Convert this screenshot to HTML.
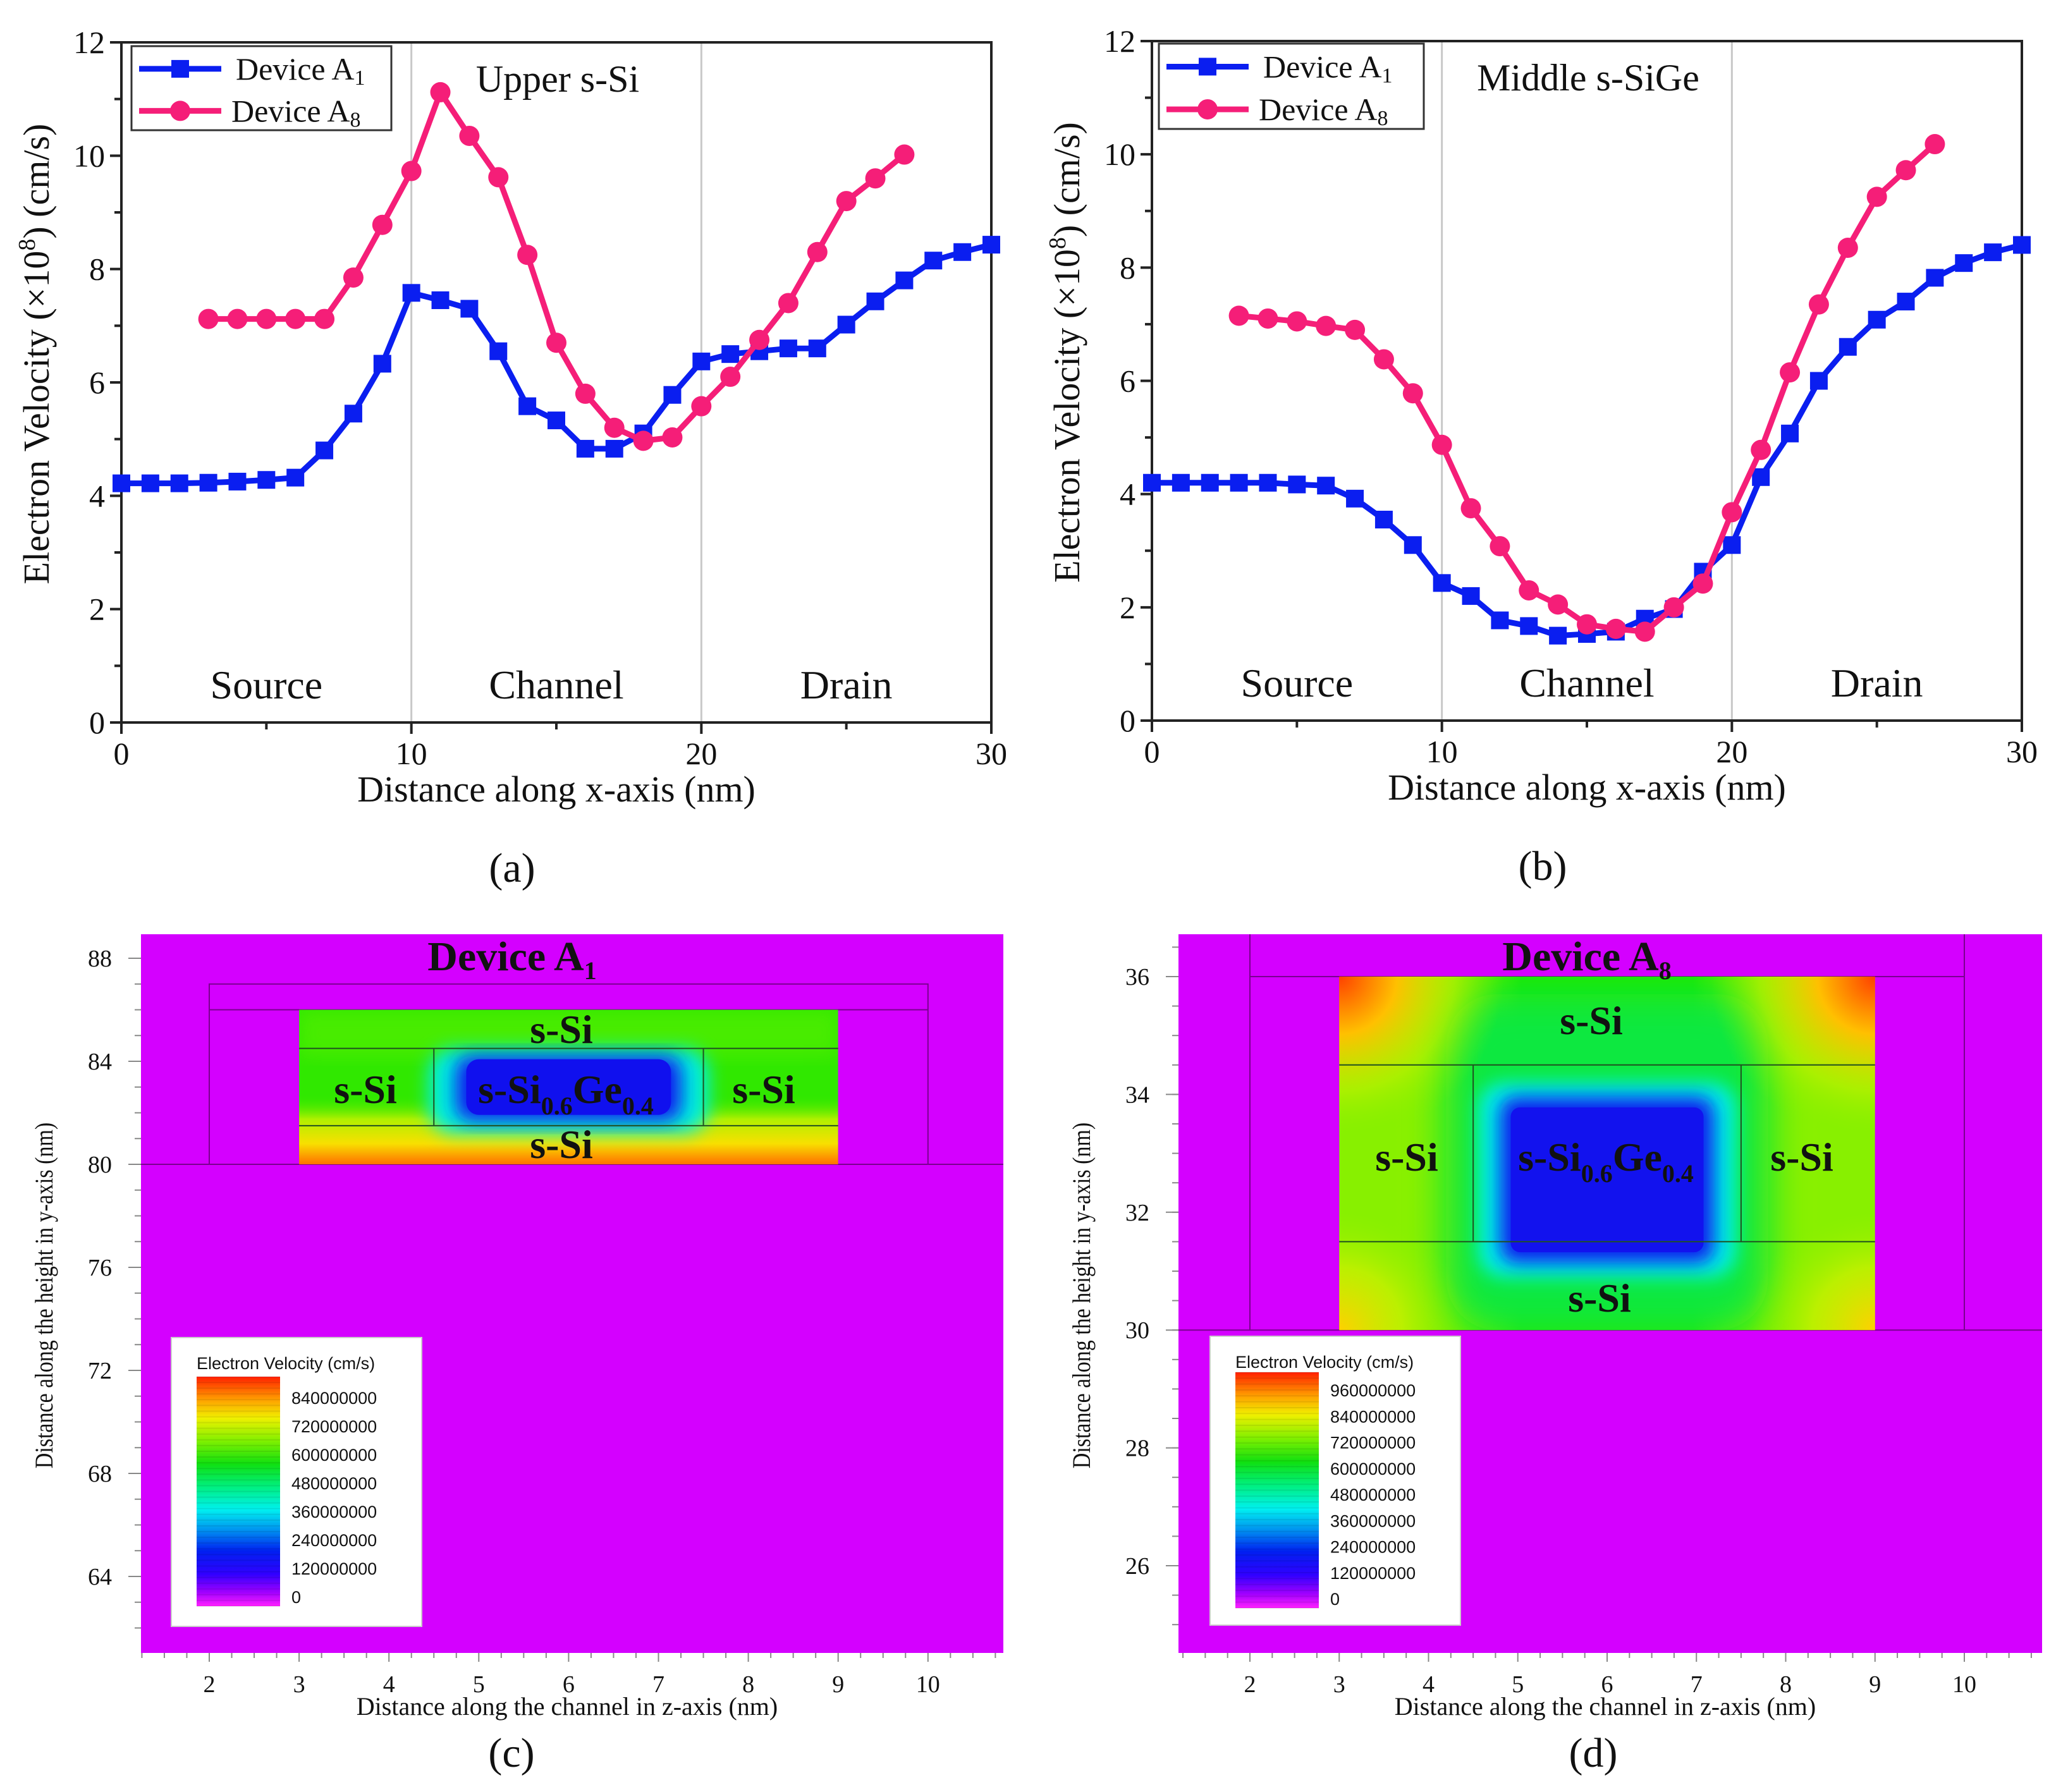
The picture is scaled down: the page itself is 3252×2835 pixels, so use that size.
<!DOCTYPE html>
<html><head><meta charset="utf-8"><style>
html,body{margin:0;padding:0;background:#fff;width:3252px;height:2835px;overflow:hidden}
svg{display:block}
text{font-family:"Liberation Serif",serif;fill:#111}
.sans{font-family:"Liberation Sans","DejaVu Sans",sans-serif}
</style></head><body>
<svg id="fig" width="3252" height="2835" viewBox="0 0 3252 2835" xmlns="http://www.w3.org/2000/svg">
<defs>
<filter id="blur1" x="-20%" y="-20%" width="140%" height="140%"><feGaussianBlur stdDeviation="14"/></filter>
<filter id="blur2" x="-20%" y="-20%" width="140%" height="140%"><feGaussianBlur stdDeviation="30"/></filter>
<linearGradient id="cbar" x1="0" y1="1" x2="0" y2="0">
<stop offset="0" stop-color="#ff20ff"/><stop offset="0.06" stop-color="#a000ff"/><stop offset="0.14" stop-color="#3000ff"/>
<stop offset="0.24" stop-color="#0020f0"/><stop offset="0.33" stop-color="#0090f0"/><stop offset="0.42" stop-color="#00f0f0"/>
<stop offset="0.52" stop-color="#00f080"/><stop offset="0.62" stop-color="#10e010"/><stop offset="0.72" stop-color="#80f000"/>
<stop offset="0.82" stop-color="#f0f000"/><stop offset="0.9" stop-color="#ffa000"/><stop offset="1" stop-color="#ff2000"/>
</linearGradient>
<linearGradient id="cbot" x1="0" y1="0" x2="0" y2="1">
<stop offset="0" stop-color="#30e800" stop-opacity="0"/><stop offset="0.35" stop-color="#b0f000"/><stop offset="0.7" stop-color="#f8e000"/><stop offset="1" stop-color="#ff7000"/>
</linearGradient>
<radialGradient id="corner"><stop offset="0" stop-color="#ff4000"/><stop offset="0.35" stop-color="#ffc000"/><stop offset="0.7" stop-color="#c0f000" stop-opacity="0.6"/><stop offset="1" stop-color="#80f000" stop-opacity="0"/></radialGradient>
<radialGradient id="cornerY"><stop offset="0" stop-color="#ffd000"/><stop offset="0.5" stop-color="#d0f000" stop-opacity="0.7"/><stop offset="1" stop-color="#80f000" stop-opacity="0"/></radialGradient>
<linearGradient id="dmid" x1="0" y1="0" x2="1" y2="0">
<stop offset="0" stop-color="#a0f000" stop-opacity="0"/><stop offset="0.3" stop-color="#20e800"/><stop offset="0.7" stop-color="#20e800"/><stop offset="1" stop-color="#a0f000" stop-opacity="0"/>
</linearGradient>
</defs>
<g id="root"></g>
</svg>
<script>
// ---------- data: panel (a) Upper s-Si ----------
const xA1 = [0,1,2,3,4,5,6,7,8,9,10,11,12,13,14,15,16,17,18,19,20,21,22,23,24,25,26,27,28,29,30];
const a_A1 = [4.22,4.22,4.22,4.23,4.25,4.28,4.32,4.8,5.45,6.33,7.58,7.45,7.3,6.55,5.58,5.33,4.83,4.83,5.1,5.78,6.37,6.5,6.55,6.6,6.6,7.02,7.43,7.8,8.15,8.3,8.43];
const xA8 = [3,4,5,6,7,8,9,10,11,12,13,14,15,16,17,18,19,20,21,22,23,24,25,26,27];
const a_A8 = [7.12,7.12,7.12,7.12,7.12,7.85,8.78,9.73,11.12,10.35,9.62,8.25,6.7,5.8,5.2,4.97,5.03,5.58,6.1,6.75,7.4,8.3,9.2,9.6,10.02];
// ---------- data: panel (b) Middle s-SiGe ----------
const b_A1 = [4.2,4.2,4.2,4.2,4.2,4.17,4.15,3.92,3.55,3.1,2.43,2.2,1.77,1.67,1.5,1.53,1.57,1.8,1.97,2.63,3.1,4.3,5.07,6.0,6.6,7.08,7.4,7.82,8.08,8.27,8.4];
const b_A8 = [7.15,7.1,7.05,6.97,6.9,6.38,5.78,4.87,3.75,3.08,2.3,2.05,1.7,1.62,1.57,2.0,2.42,3.68,4.78,6.15,7.35,8.35,9.25,9.72,10.18];
const xTicks = [0,10,20,30];
const yTicks = [0,2,4,6,8,10,12];
// ---------- data: colorbar labels ----------
const cbarC = ["840000000","720000000","600000000","480000000","360000000","240000000","120000000","0"];
const cbarD = ["960000000","840000000","720000000","600000000","480000000","360000000","240000000","120000000","0"];
const zTicks = [2,3,4,5,6,7,8,9,10];
const yTicksC = [64,68,72,76,80,84,88];
const yTicksD = [26,28,30,32,34,36];

const NS="http://www.w3.org/2000/svg";
const root=document.getElementById('root');
function mk(tag,attrs,parent,txt){const e=document.createElementNS(NS,tag);for(const k in attrs)e.setAttribute(k,attrs[k]);if(txt!==undefined)e.textContent=txt;(parent||root).appendChild(e);return e;}

function linePanel(P,s1,s8,region,tag,lg){
  const g=mk('g',{});
  
  
  const sx=v=>P.l+(P.r-P.l)*v/30, sy=v=>P.b-(P.b-P.t)*v/12;
  [10,20].forEach(v=>{const l=mk('line',{x1:sx(v),x2:sx(v),y1:P.t,y2:P.b,stroke:'#c8c8c8','stroke-width':3},g);
    });
  const fr=mk('rect',{x:P.l,y:P.t,width:P.r-P.l,height:P.b-P.t,fill:'none',stroke:'#222','stroke-width':4},g);
  
  for(let v=0;v<=30;v+=5){const big=v%10===0;mk('line',{x1:sx(v),x2:sx(v),y1:P.b,y2:P.b+(big?18:11),stroke:'#222','stroke-width':4},g);}
  for(let v=0;v<=12;v+=1){const big=v%2===0;mk('line',{x1:P.l,x2:P.l-(big?18:11),y1:sy(v),y2:sy(v),stroke:'#222','stroke-width':4},g);}
  xTicks.forEach(v=>{const t=mk('text',{x:sx(v),y:P.b+66,'text-anchor':'middle','font-size':50},g,String(v));
    });
  yTicks.forEach(v=>{const t=mk('text',{x:P.l-26,y:sy(v)+17,'text-anchor':'end','font-size':50},g,String(v));
    });
  const xt=mk('text',{x:(P.l+P.r)/2,y:P.b+125,'text-anchor':'middle','font-size':58},g,'Distance along x-axis (nm)');
  
  const yt=mk('text',{x:0,y:0,'text-anchor':'middle','font-size':58,transform:`translate(${P.l-115},${(P.t+P.b)/2-45}) rotate(-90)`},g);
  
  yt.innerHTML='Electron Velocity (×10<tspan dy="-22" font-size="38">8</tspan><tspan dy="22">) (cm/s)</tspan>';
  ['Source','Channel','Drain'].forEach((s,i)=>{const t=mk('text',{x:sx(5+10*i),y:P.b-38,'text-anchor':'middle','font-size':64},g,s);
    });
  const rl=mk('text',{x:region.x,y:P.t+78,'text-anchor':'middle','font-size':60},g,region.t);
  
  const pts1=xA1.map((x,i)=>sx(x)+','+sy(s1[i])).join(' ');
  const pts8=xA8.map((x,i)=>sx(x)+','+sy(s8[i])).join(' ');
  const p1=mk('polyline',{points:pts1,fill:'none',stroke:'#0a1ef0','stroke-width':9,'stroke-linejoin':'round'},g);
  
  xA1.forEach((x,i)=>{const m=mk('rect',{x:sx(x)-14,y:sy(s1[i])-14,width:28,height:28,fill:'#0a1ef0'},g);
    });
  const p8=mk('polyline',{points:pts8,fill:'none',stroke:'#f51e78','stroke-width':9,'stroke-linejoin':'round'},g);
  
  xA8.forEach((x,i)=>{const m=mk('circle',{cx:sx(x),cy:sy(s8[i]),r:16,fill:'#f51e78'},g);
    });
  const L=mk('g',{},g);
  mk('rect',{x:lg.x,y:lg.y,width:lg.w,height:lg.h,fill:'#fff',stroke:'#333','stroke-width':3},L);
  const r1=lg.y+lg.h*0.27, r2=lg.y+lg.h*0.77;
  mk('line',{x1:lg.x+12,x2:lg.x+142,y1:r1,y2:r1,stroke:'#0a1ef0','stroke-width':9},L);
  mk('rect',{x:lg.x+63,y:r1-14,width:28,height:28,fill:'#0a1ef0'},L);
  mk('line',{x1:lg.x+12,x2:lg.x+142,y1:r2,y2:r2,stroke:'#f51e78','stroke-width':9},L);
  mk('circle',{cx:lg.x+77,cy:r2,r:16,fill:'#f51e78'},L);
  const t1=mk('text',{x:lg.x+165,y:r1+17,'font-size':50},L);t1.innerHTML='Device A<tspan font-size="34" dy="8">1</tspan>';
  
  const t8=mk('text',{x:lg.x+158,y:r2+17,'font-size':50},L);t8.innerHTML='Device A<tspan font-size="34" dy="8">8</tspan>';
  
  const cap=mk('text',{x:(P.l+P.r)/2-70,y:P.b+252,'text-anchor':'middle','font-size':66},g,'('+tag+')');
  
}
linePanel({l:192,r:1568,t:67,b:1143},a_A1,a_A8,{x:882,t:'Upper s-Si'},'a',{x:208,y:73,w:411,h:133});
linePanel({l:1822,r:3198,t:65,b:1140},b_A1,b_A8,{x:2512,t:'Middle s-SiGe'},'b',{x:1833,y:69,w:419,h:135});

function heatPanel(P,tag,labels,yt,drawInside,capX){
  const g=mk('g',{});
  
  
  const sz=v=>P.z0+(v-2)*P.kz, sy=v=>P.y0+(P.yref-v)*P.ky;
  mk('rect',{x:P.l,y:P.t,width:P.r-P.l,height:P.b-P.t,fill:'#d400ff'},g);
  drawInside(g,sz,sy);
  for(let v=1.25;v<=10.9;v+=0.25){const big=Math.abs(v-Math.round(v))<0.01;
    mk('line',{x1:sz(v),x2:sz(v),y1:P.b,y2:P.b+(big?14:8),stroke:'#888','stroke-width':2},g);}
  zTicks.forEach(v=>{const t=mk('text',{x:sz(v),y:P.b+62,'text-anchor':'middle','font-size':38},g,String(v));
    });
  const ymin=Math.ceil(yt.minor[0]), ymax=yt.minor[1];
  for(let v=ymin;v<=ymax;v+=yt.step){mk('line',{x1:P.l,x2:P.l-10,y1:sy(v),y2:sy(v),stroke:'#888','stroke-width':2},g);}
  yt.ticks.forEach(v=>{mk('line',{x1:P.l,x2:P.l-20,y1:sy(v),y2:sy(v),stroke:'#888','stroke-width':2},g);
    const t=mk('text',{x:P.l-46,y:sy(v)+13,'text-anchor':'end','font-size':38},g,String(v));
    });
  const xtt=mk('text',{x:(P.l+P.r)/2-8,y:P.b+98,'text-anchor':'middle','font-size':40},g,'Distance along the channel in z-axis (nm)');
  
  const ytt=mk('text',{x:0,y:0,'text-anchor':'middle','font-size':40,transform:`translate(${P.l-140},${(P.t+P.b)/2+3}) rotate(-90) scale(0.85,1)`},g,'Distance along the height in y-axis (nm)');
  
  const L=mk('g',{},g);
  const lx=P.lg.x, ly=P.lg.y;
  mk('rect',{x:lx,y:ly,width:396,height:457,fill:'#fff',stroke:'#ccc','stroke-width':2},L);
  mk('text',{x:lx+40,y:ly+50,'font-size':27,class:'sans'},L,'Electron Velocity (cm/s)');
  const cbT=ly+P.lg.cbt, cbB=ly+P.lg.cbb;
  const cb=mk('rect',{x:lx+40,y:cbT,width:132,height:cbB-cbT,fill:'url(#cbar)'},L);
  
  for(let y=cbT;y<cbB;y+=(cbB-cbT)/40){mk('line',{x1:lx+40,x2:lx+172,y1:y,y2:y,stroke:'#000','stroke-opacity':0.08,'stroke-width':2},L);}
  const n=labels.length, top=ly+P.lg.l0, bot=ly+P.lg.l1;
  labels.forEach((s,i)=>{const t=mk('text',{x:lx+190,y:top+(bot-top)*i/(n-1),'font-size':27,class:'sans'},L,s);
    });
  const c=mk('text',{x:capX,y:P.b+180,'text-anchor':'middle','font-size':66},g,'('+tag+')');
  
}
function label(g,x,y,html,fs,name){const t=mk('text',{x:x,y:y,'text-anchor':'middle','font-size':fs,'font-weight':'bold'},g);t.innerHTML=html;
  }

heatPanel({l:223,r:1587,t:1478,b:2615,z0:331,kz:142.1,y0:1516,yref:88,ky:40.75,lg:{x:271,y:2116,cbt:62,cbb:425,l0:105,l1:420}},'c',cbarC,
 {ticks:yTicksC,minor:[61.5,88.5],step:1},
 (g,sz,sy)=>{
  mk('rect',{x:sz(2),y:sy(87),width:sz(10)-sz(2),height:sy(80)-sy(87),fill:'none',stroke:'#7a0090','stroke-width':2},g);
  mk('line',{x1:sz(2),x2:sz(10),y1:sy(86),y2:sy(86),stroke:'#7a0090','stroke-width':2},g);
  mk('line',{x1:223,x2:1587,y1:sy(80),y2:sy(80),stroke:'#7a0090','stroke-width':2},g);
  const x=sz(3),w=sz(9)-sz(3),y=sy(86),h=sy(80)-sy(86);
  mk('svg',{x:x,y:y,width:w,height:h,overflow:'hidden'},g);
  const inner=g.lastChild;
  mk('rect',{x:0,y:0,width:w,height:h,fill:'#30e800'},inner);
  mk('rect',{x:0,y:h*0.55,width:w,height:h*0.45,fill:'url(#cbot)'},inner);
  mk('rect',{x:0,y:0,width:w,height:h*0.3,fill:'#60f000',opacity:0.5,filter:'url(#blur1)'},inner);
  mk('rect',{x:w*0.24,y:h*0.25,width:w*0.52,height:h*0.55,rx:40,fill:'#00f0e0',filter:'url(#blur1)'},inner);
  mk('rect',{x:w*0.29,y:h*0.3,width:w*0.42,height:h*0.42,rx:25,fill:'#1020f0',filter:'url(#blur1)'},inner);
  mk('rect',{x:w*0.31,y:h*0.32,width:w*0.38,height:h*0.36,rx:20,fill:'#1010ee'},inner);
  [84.5,81.5].forEach(v=>mk('line',{x1:sz(3),x2:sz(9),y1:sy(v),y2:sy(v),stroke:'#205020','stroke-width':2},g));
  [4.5,7.5].forEach(v=>mk('line',{x1:sz(v),x2:sz(v),y1:sy(84.5),y2:sy(81.5),stroke:'#205020','stroke-width':2},g));
  label(g,810,1535,'Device A<tspan font-size="40" dy="14">1</tspan>',66,'device-title');
  label(g,888,1650,'s-Si',64,'layer-label-top');
  label(g,578,1745,'s-Si',64,'layer-label-left');
  label(g,1208,1745,'s-Si',64,'layer-label-right');
  label(g,888,1832,'s-Si',64,'layer-label-bottom');
  label(g,895,1745,'s-Si<tspan font-size="40" dy="18">0.6</tspan><tspan dy="-18">Ge</tspan><tspan font-size="40" dy="18">0.4</tspan>',64,'layer-label-core');
 },809);

heatPanel({l:1864,r:3230,t:1478,b:2615,z0:1977,kz:141.25,y0:1545,yref:36,ky:93.2,lg:{x:1914,y:2114,cbt:57,cbb:430,l0:95,l1:425}},'d',cbarD,
 {ticks:yTicksD,minor:[24.8,36.6],step:0.5},
 (g,sz,sy)=>{
  mk('line',{x1:sz(2),x2:sz(2),y1:1478,y2:sy(30),stroke:'#7a0090','stroke-width':2},g);
  mk('line',{x1:sz(10),x2:sz(10),y1:1478,y2:sy(30),stroke:'#7a0090','stroke-width':2},g);
  mk('line',{x1:sz(2),x2:sz(10),y1:sy(36),y2:sy(36),stroke:'#7a0090','stroke-width':2},g);
  mk('line',{x1:1864,x2:3230,y1:sy(30),y2:sy(30),stroke:'#7a0090','stroke-width':2},g);
  const x=sz(3),w=sz(9)-sz(3),y=sy(36),h=sy(30)-sy(36);
  mk('svg',{x:x,y:y,width:w,height:h,overflow:'hidden'},g);
  const inner=g.lastChild;
  mk('rect',{x:0,y:0,width:w,height:h,fill:'#88f000'},inner);
  mk('rect',{x:w*0.1,y:-h*0.1,width:w*0.8,height:h*1.2,fill:'url(#dmid)'},inner);
  mk('rect',{x:w*0.2,y:h*0.05,width:w*0.6,height:h*0.95,rx:80,fill:'#10e840',filter:'url(#blur2)'},inner);
  mk('circle',{cx:0,cy:0,r:260,fill:'url(#corner)'},inner);
  mk('circle',{cx:w,cy:0,r:260,fill:'url(#corner)'},inner);
  mk('circle',{cx:0,cy:h,r:200,fill:'url(#cornerY)'},inner);
  mk('circle',{cx:w,cy:h,r:200,fill:'url(#cornerY)'},inner);
  mk('rect',{x:w*0.26,y:h*0.3,width:w*0.48,height:h*0.55,rx:40,fill:'#00f0e8',filter:'url(#blur1)'},inner);
  mk('rect',{x:w*0.3,y:h*0.34,width:w*0.4,height:h*0.47,rx:25,fill:'#1020f0',filter:'url(#blur1)'},inner);
  mk('rect',{x:w*0.32,y:h*0.37,width:w*0.36,height:h*0.41,rx:15,fill:'#1212ee'},inner);
  [34.5,31.5].forEach(v=>mk('line',{x1:sz(3),x2:sz(9),y1:sy(v),y2:sy(v),stroke:'#205020','stroke-width':2},g));
  [4.5,7.5].forEach(v=>mk('line',{x1:sz(v),x2:sz(v),y1:sy(34.5),y2:sy(31.5),stroke:'#205020','stroke-width':2},g));
  label(g,2510,1535,'Device A<tspan font-size="40" dy="14">8</tspan>',66,'device-title');
  label(g,2517,1636,'s-Si',64,'layer-label-top');
  label(g,2225,1852,'s-Si',64,'layer-label-left');
  label(g,2850,1852,'s-Si',64,'layer-label-right');
  label(g,2530,2075,'s-Si',64,'layer-label-bottom');
  label(g,2540,1852,'s-Si<tspan font-size="40" dy="18">0.6</tspan><tspan dy="-18">Ge</tspan><tspan font-size="40" dy="18">0.4</tspan>',64,'layer-label-core');
 },2520);
</script>
</body></html>
